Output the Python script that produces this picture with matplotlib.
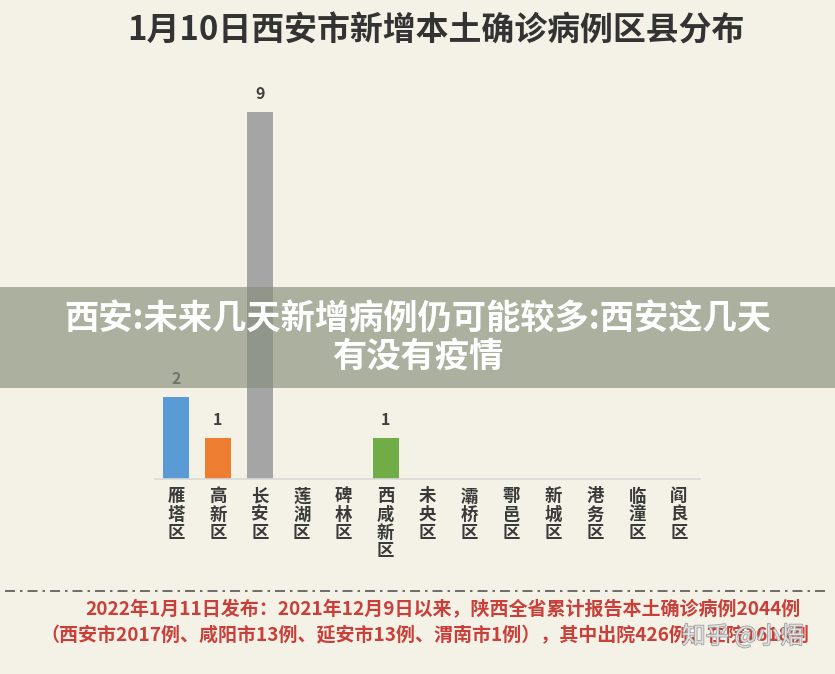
import matplotlib
matplotlib.use("Agg")
import matplotlib.pyplot as plt
import matplotlib.patheffects as pe
from matplotlib.patches import Rectangle

plt.rcParams['font.family'] = ['Noto Sans CJK SC', 'DejaVu Sans']

##################################
# Data
districts = ["雁塔区", "高新区", "长安区", "莲湖区", "碑林区", "西咸新区", "未央区",
             "灞桥区", "鄠邑区", "新城区", "港务区", "临潼区", "阎良区"]
cases = [2, 1, 9, 0, 0, 1, 0, 0, 0, 0, 0, 0, 0]
bar_colors = ["#5b9bd5", "#ed7d31", "#a5a5a5", "#a5a5a5", "#a5a5a5", "#70ad47", "#a5a5a5",
              "#a5a5a5", "#a5a5a5", "#a5a5a5", "#a5a5a5", "#a5a5a5", "#a5a5a5"]

title = "1月10日西安市新增本土确诊病例区县分布"
overlay = "西安:未来几天新增病例仍可能较多:西安这几天\n有没有疫情"
note1 = "2022年1月11日发布：2021年12月9日以来，陕西全省累计报告本土确诊病例2044例"
note2 = "（西安市2017例、咸阳市13例、延安市13例、渭南市1例），其中出院426例，在院1618例"
watermark = "知乎 @小焐"

bg = "#f4f1e6"
W, H = 835, 674

##################################
# Figure
fig = plt.figure(figsize=(W / 100, H / 100), dpi=100, facecolor=bg)

# bar axes, placed in pixel terms
ax = fig.add_axes([155 / W, 195 / H, 545 / W, 408 / H])
ax.set_facecolor("none")
x = range(len(districts))
ax.bar(x, cases, width=0.62, color=bar_colors, zorder=2)
ax.set_xlim(-0.5, len(districts) - 0.5)
ax.set_ylim(0, 10)

for i, v in enumerate(cases):
    if v > 0:
        ax.text(i, v + 0.25, str(v), ha="center", va="bottom",
                fontsize=11.5, fontweight="bold", color="#404040")

for s in ["top", "right", "left"]:
    ax.spines[s].set_visible(False)
ax.spines["bottom"].set_color("#d9d9d9")
ax.spines["bottom"].set_linewidth(1.2)
ax.set_yticks([])
ax.set_xticks(list(x))
ax.set_xticklabels(["\n".join(d) for d in districts], fontsize=12.5,
                   fontweight="heavy", color="#3a3a3a", linespacing=1.02, va="top")
ax.tick_params(axis="x", length=0, pad=6)

# title
fig.text(436 / W, 1 - 31 / H, title, ha="center", va="center",
         fontsize=23.7, fontweight="heavy", color="#333333")

# overlay band with headline
fig.patches.append(Rectangle((0, 1 - 388 / H), 1, 101 / H, transform=fig.transFigure,
                             facecolor="#87907d", alpha=0.67, edgecolor="none", zorder=5))
fig.text(418 / W, 1 - 338 / H, overlay, ha="center", va="center", fontsize=24.7,
         fontweight="black", color="white", linespacing=1.08, zorder=6)

# dashed separator
fig.add_artist(plt.Line2D([5 / W, 830 / W], [1 - 591 / H, 1 - 591 / H],
                          transform=fig.transFigure, color="#555555", lw=1.2,
                          linestyle=(0, (6, 3, 1.5, 3))))

# red notes
fig.text(85 / W, 1 - 610 / H, note1, ha="left", va="center", fontsize=13.7,
         fontweight="bold", color="#c9403a")
fig.text(40 / W, 1 - 636 / H, note2, ha="left", va="center", fontsize=13.7,
         fontweight="bold", color="#c9403a")

# watermark
fig.text(682 / W, 1 - 636 / H, watermark, ha="left", va="center", fontsize=17,
         color="#e6e6e6", alpha=0.92, zorder=7,
         path_effects=[pe.withStroke(linewidth=1.2, foreground="#9a9a9a")])

fig.savefig("out.png", dpi=100, facecolor=bg)
